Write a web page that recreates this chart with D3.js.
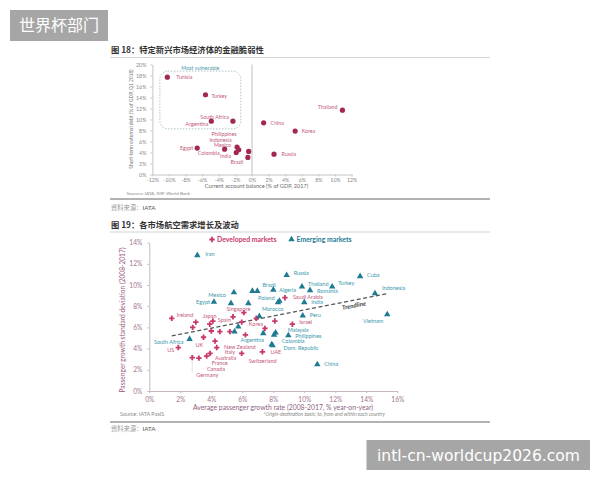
<!DOCTYPE html>
<html><head><meta charset="utf-8">
<script src="https://cdn.jsdelivr.net/npm/d3@7"></script>
<style>body{margin:0;background:#fff}</style>
</head><body>
<svg id="c" width="600" height="480" xmlns="http://www.w3.org/2000/svg"></svg>
<script>
// ---------- Chart 18 data ----------
const c18Countries = ["Tunisia","Turkey","South Africa","Argentina","China","Thailand","Korea","Russia","Egypt","Colombia","Mexico","Indonesia","India","Philippines","Brazil"];
const c18CurrentAccount = [-10.2,-5.6,-2.3,-4.9,1.4,10.9,5.2,2.65,-6.6,-3.3,-1.8,-1.6,-1.9,-0.4,-0.5];
const c18ShortDebt = [17.7,14.5,9.7,9.7,9.4,11.7,7.9,3.7,4.8,4.6,5.0,4.5,4.0,4.2,3.1];
const c18XTicks = [-12,-10,-8,-6,-4,-2,0,2,4,6,8,10,12];
const c18YTicks = [0,2,4,6,8,10,12,14,16,18,20];
const c18VulnBoxX = [-11.1,-1.35];
const c18VulnBoxY = [8.3,18.8];

// ---------- Chart 19 data ----------
const devNames = ["Ireland","Japan","","","Spain","Singapore","","","","","UK","","","Korea","","Saudi Arabia","Israel","New Zealand","Italy","US","Germany","Canada","France","Australia","Switzerland","UAE",""];
const devGrowth = [1.45,4.1,3.0,3.9,5.4,6.1,2.8,4.0,4.55,5.2,3.5,5.96,6.9,7.46,8.1,8.75,9.23,4.24,4.35,1.87,2.77,3.2,3.7,3.92,5.96,7.3,6.2];
const devStdDev = [6.86,6.6,6.5,6.3,7.0,7.4,6.0,5.66,5.6,5.6,5.07,6.5,6.86,5.9,6.6,8.8,6.3,4.7,4.1,4.1,3.15,3.1,3.3,3.55,3.55,3.7,5.3];
const emNames = ["Iran","Russia","Cuba","Thailand","Turkey","Romania","Algeria","Brazil","","Mexico","Indonesia","Egypt","","","Poland","Morocco","India","Peru","Vietnam","","","","Argentina","Malaysia","","Philippines","Colombia","Dom. Republic","China","South Africa"];
const emGrowth = [3.1,8.86,13.6,9.85,11.8,10.37,8.0,6.65,6.97,5.46,14.56,4.17,5.27,6.39,8.4,8.3,10.0,9.9,15.35,7.1,5.74,5.5,7.35,8.15,8.05,8.97,7.9,7.95,10.84,2.6];
const emStdDev = [12.8,10.92,10.82,9.84,9.84,9.5,9.55,9.43,9.43,9.3,9.2,8.4,8.27,8.27,8.5,8.35,8.37,7.1,7.23,7.05,6.07,5.6,5.44,5.5,5.3,5.25,4.4,4.3,2.5,4.9];
const trendX = [1.45,15.4];
const trendY = [5.2,9.2];
const c19XTicks = [0,2,4,6,8,10,12,14,16];
const c19YTicks = [0,2,4,6,8,10,12,14];

// ---------- setup ----------
const svg = d3.select("#c");
const LAT = "Lato, 'Liberation Sans', sans-serif";
const CJK = "'Noto Sans CJK SC', sans-serif";

function hline(y, x1, x2, col, w){
  svg.append("line").attr("x1",x1).attr("x2",x2).attr("y1",y).attr("y2",y)
    .attr("stroke",col).attr("stroke-width",w);
}
function txt(x,y,s,opt){
  const t = svg.append("text").attr("x",x).attr("y",y).attr("dy","0.35em")
    .attr("font-family",opt.font||LAT).attr("font-size",opt.size||6)
    .attr("fill",opt.fill||"#333").attr("text-anchor",opt.anchor||"start").text(s);
  if(opt.weight) t.attr("font-weight",opt.weight);
  if(opt.style) t.attr("font-style",opt.style);
  if(opt.rotate!==undefined) t.attr("transform",`rotate(${opt.rotate},${x},${y})`);
  return t;
}

// titles and rules
txt(111,50.5,"图 18：特定新兴市场经济体的金融脆弱性",{font:CJK,size:8.3,weight:"bold",fill:"#333"});
hline(57.5,110,490,"#c8c8c8",0.8);
hline(199,110,490,"#666",1);
const s1 = svg.append("text").attr("x",111).attr("y",208).attr("dy","0.35em").attr("font-family",CJK).attr("font-size",6.3).attr("fill","#999");
s1.append("tspan").text("资料来源：");
s1.append("tspan").attr("font-family",LAT).attr("fill","#555").text("IATA");
txt(111,225,"图 19：各市场航空需求增长及波动",{font:CJK,size:8.3,weight:"bold",fill:"#333"});
hline(232,110,490,"#c8c8c8",0.8);
hline(422,110,490,"#666",1);
const s2 = svg.append("text").attr("x",111).attr("y",428.5).attr("dy","0.35em").attr("font-family",CJK).attr("font-size",6.3).attr("fill","#999");
s2.append("tspan").text("资料来源：");
s2.append("tspan").attr("font-family",LAT).attr("fill","#555").text("IATA");

// ---------- Chart 18 ----------
const x18 = d3.scaleLinear().domain([-12,12]).range([152.4,351.6]);
const y18 = d3.scaleLinear().domain([0,20]).range([174.5,64.5]);
function styleAxis(g, col, tcol, size){
  g.selectAll("path,line").attr("stroke",col);
  g.selectAll("text").attr("fill",tcol).attr("font-size",size).attr("font-family",LAT);
}
const ay18 = svg.append("g").attr("transform",`translate(${x18(-12)},0)`)
  .call(d3.axisLeft(y18).tickValues(c18YTicks).tickSize(2).tickPadding(4).tickSizeOuter(0).tickFormat(d=>d+"%"));
styleAxis(ay18,"#c4c4c4","#888",5.3);
const ax18 = svg.append("g").attr("transform",`translate(0,${y18(0)})`)
  .call(d3.axisBottom(x18).tickValues(c18XTicks).tickSize(2).tickPadding(2).tickSizeOuter(0).tickFormat(d=>d+"%"));
styleAxis(ax18,"#c4c4c4","#888",5.3);
svg.append("line").attr("x1",x18(0)).attr("x2",x18(0)).attr("y1",y18(20)).attr("y2",y18(0))
  .attr("stroke","#b8b8b8").attr("stroke-width",0.9);

// most vulnerable box
svg.append("rect").attr("x",x18(c18VulnBoxX[0])).attr("y",y18(c18VulnBoxY[1]))
  .attr("width",x18(c18VulnBoxX[1])-x18(c18VulnBoxX[0])).attr("height",y18(c18VulnBoxY[0])-y18(c18VulnBoxY[1]))
  .attr("rx",8).attr("fill","none").attr("stroke","#9ab5b8").attr("stroke-width",0.8).attr("stroke-dasharray","1.5,1.5");
txt((x18(c18VulnBoxX[0])+x18(c18VulnBoxX[1]))/2, y18(c18VulnBoxY[1])-3.2, "Most vulnerable",{size:5.4,fill:"#4b9aa8",anchor:"middle"});

// labels placement (pixel offsets from the point)
const lab18 = {
  "Tunisia":[9,0,"start"],"Turkey":[6,1,"start"],"South Africa":[-4,-4.5,"end"],"Argentina":[-3,2.5,"end"],
  "China":[7,0.5,"start"],"Thailand":[-5,-3.5,"end"],"Korea":[6.5,0.3,"start"],"Russia":[7.5,0,"start"],
  "Egypt":[-4,0,"end"],"Colombia":[-5,3.5,"end"],"Mexico":[-6,-1.8,"end"],"Indonesia":[-7,-10,"end"],
  "India":[-5,4,"end"],"Philippines":[-12,-16.8,"end"],"Brazil":[-4.5,5,"end"]
};
c18Countries.forEach((n,i)=>{
  const px = x18(c18CurrentAccount[i]), py = y18(c18ShortDebt[i]);
  svg.append("circle").attr("cx",px).attr("cy",py).attr("r",2.6).attr("fill","#a3284f");
  const o = lab18[n];
  txt(px+o[0],py+o[1],n,{size:5.3,fill:"#c25a7c",anchor:o[2]});
});
txt(131.5,119,"Short-term external debt (% of GDP, Q1 2018)",{size:4.9,fill:"#777",anchor:"middle",rotate:-90});
txt(256.5,186.5,"Current account balance (% of GDP, 2017)",{size:5.6,fill:"#6a6a6a",anchor:"middle"});
txt(126.5,193.3,"Sources: IATA, IMF, World Bank",{size:4.6,fill:"#8a8a8a"});

// ---------- Chart 19 ----------
const x19 = d3.scaleLinear().domain([0,16]).range([149.3,397.3]);
const y19 = d3.scaleLinear().domain([0,14]).range([391,242.6]);
const ay19 = svg.append("g").attr("transform",`translate(${x19(0)},0)`)
  .call(d3.axisLeft(y19).tickValues(c19YTicks).tickSize(2).tickPadding(5).tickSizeOuter(0).tickFormat(d=>d+"%"));
styleAxis(ay19,"#c9b8c4","#a27590",6.6);
const ax19 = svg.append("g").attr("transform",`translate(0,${y19(0)})`)
  .call(d3.axisBottom(x19).tickValues(c19XTicks).tickSize(2).tickPadding(4).tickSizeOuter(0).tickFormat(d=>d+"%"));
styleAxis(ax19,"#c9b8c4","#a27590",6.6);

// trendline
svg.append("line").attr("x1",x19(trendX[0])).attr("y1",y19(trendY[0])).attr("x2",x19(trendX[1])).attr("y2",y19(trendY[1]))
  .attr("stroke","#555").attr("stroke-width",1.2).attr("stroke-dasharray","4,2.5");
{
  const ang = Math.atan2(y19(trendY[1])-y19(trendY[0]), x19(trendX[1])-x19(trendX[0]))*180/Math.PI;
  txt(354,305.5,"Trendline",{size:6.2,fill:"#444",anchor:"middle",weight:"bold",style:"italic",rotate:ang});
}

const devCol = "#c8386a", emCol = "#1f7a93";
const devLab = "#c4577c", emLab = "#3a97ad";
const symDev = d3.symbol().type(d3.symbolCross).size(16);
const symEm = d3.symbol().type(d3.symbolTriangle).size(18);

const lab19dev = {
  "Ireland":[5,-3,"start"],"Japan":[-10,-5,"start"],"Spain":[-2,3,"end"],"Singapore":[-5.5,-3.5,"middle"],
  "UK":[-8,8,"start"],"US":[-4,2.5,"end"],"New Zealand":[9,5.5,"start"],"Italy":[8,5,"start"],
  "Korea":[-2,-4,"end"],"Saudi Arabia":[8,-1,"start"],"Israel":[7,-2,"start"],"Germany":[4,17,"start"],
  "Canada":[8,11,"start"],"France":[5,7.5,"start"],"Australia":[5,4.6,"start"],"Switzerland":[7,8,"start"],"UAE":[8,0.5,"start"]
};
const lab19em = {
  "Iran":[8,-1,"start"],"Russia":[7,-2,"start"],"Cuba":[7,-1,"start"],"Thailand":[6,-3,"start"],"Turkey":[6,-4,"start"],
  "Romania":[7,1,"start"],"Algeria":[6,0,"start"],"Brazil":[10,-6,"start"],"Mexico":[-8,3,"end"],"Indonesia":[7,-5,"start"],
  "Egypt":[-4,0,"end"],"Poland":[-5,-3,"end"],"Morocco":[-16,7,"start"],"India":[7,0,"start"],"Peru":[7,-1,"start"],
  "Vietnam":[-4,7,"end"],"Argentina":[-11,7,"middle"],"Malaysia":[12,-3,"start"],"Philippines":[7,1,"start"],
  "Colombia":[10,-3,"start"],"Dom. Republic":[11,3,"start"],"China":[7,0,"start"],"South Africa":[-6,3,"end"]
};

// leader line for Germany
{
  const i = devNames.indexOf("Germany");
  const px = x19(devGrowth[i]), py = y19(devStdDev[i]);
  svg.append("line").attr("x1",px).attr("x2",px).attr("y1",py+3).attr("y2",py+15).attr("stroke","#ccc").attr("stroke-width",0.6);
}

devNames.forEach((n,i)=>{
  const px = x19(devGrowth[i]), py = y19(devStdDev[i]);
  svg.append("path").attr("d",symDev()).attr("transform",`translate(${px},${py})`).attr("fill",devCol);
  if(n){ const o = lab19dev[n]; txt(px+o[0],py+o[1],n,{size:5.5,fill:devLab,anchor:o[2]}); }
});
emNames.forEach((n,i)=>{
  const px = x19(emGrowth[i]), py = y19(emStdDev[i]);
  svg.append("path").attr("d",symEm()).attr("transform",`translate(${px},${py})`).attr("fill",emCol);
  if(n){ const o = lab19em[n]; txt(px+o[0],py+o[1],n,{size:5.5,fill:emLab,anchor:o[2]}); }
});

// legend
svg.append("path").attr("d",symDev()).attr("transform","translate(212,239.5)").attr("fill",devCol);
txt(217,239.5,"Developed markets",{size:6.9,fill:devCol,weight:"bold"});
svg.append("path").attr("d",symEm()).attr("transform","translate(291.5,239.5)").attr("fill",emCol);
txt(296.5,239.5,"Emerging markets",{size:6.9,fill:emCol,weight:"bold"});

// axis titles & notes
txt(123,320,"Passenger growth standard deviation (2008-2017)",{size:6.6,fill:"#9a5a7c",anchor:"middle",rotate:-90});
txt(283,407.5,"Average passenger growth rate (2008-2017, % year-on-year)",{size:6.8,fill:"#8e5f80",anchor:"middle"});
txt(120,414,"Source: IATA PaxIS",{size:5.4,fill:"#8a8a8a"});
txt(263.5,414,"*Origin-destination basis; to, from and within each country",{size:5,fill:"#8a8a8a",style:"italic"});

// ---------- watermarks ----------
svg.append("rect").attr("x",10).attr("y",10).attr("width",98).attr("height",31).attr("fill","#a6a6a6");
txt(59,25.5,"世界杯部门",{font:CJK,size:16,fill:"#fff",anchor:"middle"});
svg.append("rect").attr("x",366.5).attr("y",440).attr("width",223.5).attr("height",30).attr("fill","#a6a6a6");
txt(377,455,"intl-cn-worldcup2026.com",{font:"'DejaVu Sans', sans-serif",size:16,fill:"#fff"}).attr("textLength",203).attr("lengthAdjust","spacingAndGlyphs");
</script>
</body></html>
